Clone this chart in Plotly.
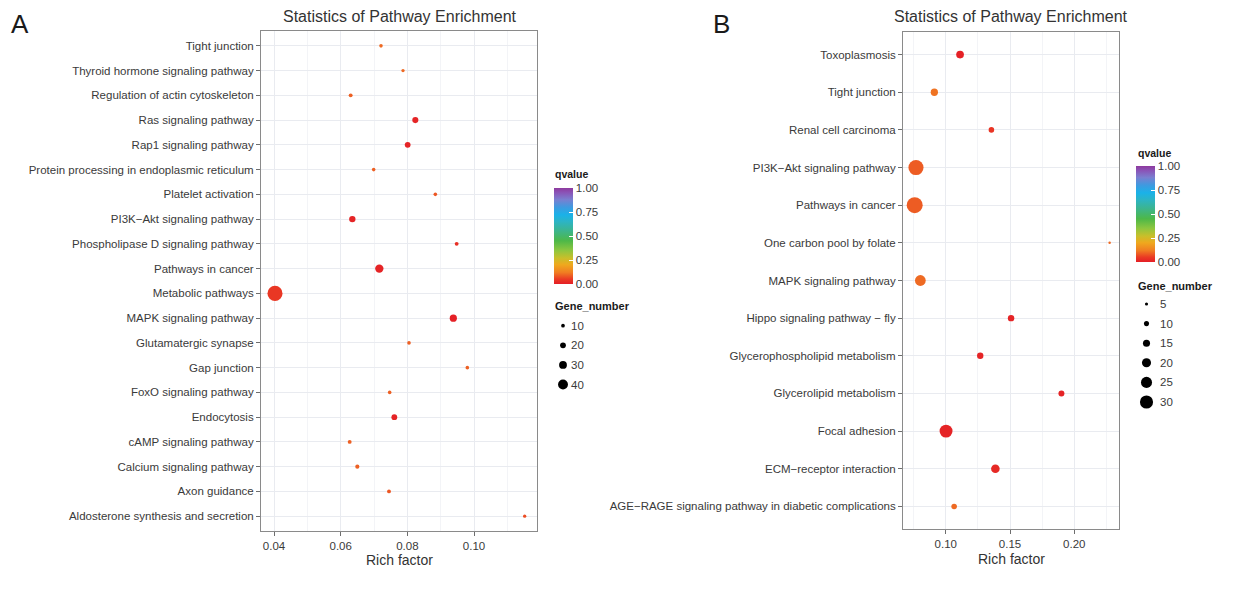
import plotly.graph_objects as go

W, H = 1245, 596
MINUS = "\u2212"

# ---- Panel A data (categories listed bottom-to-top) ----
a_pathways = [
    "Aldosterone synthesis and secretion", "Axon guidance", "Calcium signaling pathway",
    "cAMP signaling pathway", "Endocytosis", "FoxO signaling pathway", "Gap junction",
    "Glutamatergic synapse", "MAPK signaling pathway", "Metabolic pathways",
    "Pathways in cancer", "Phospholipase D signaling pathway", f"PI3K{MINUS}Akt signaling pathway",
    "Platelet activation", "Protein processing in endoplasmic reticulum", "Rap1 signaling pathway",
    "Ras signaling pathway", "Regulation of actin cytoskeleton", "Thyroid hormone signaling pathway",
    "Tight junction",
]
a_rich = [0.1152, 0.0745, 0.0650, 0.0627, 0.0761, 0.0747, 0.0980, 0.0805, 0.0938, 0.0403,
          0.0716, 0.0948, 0.0635, 0.0884, 0.0699, 0.0801, 0.0824, 0.0630, 0.0787, 0.0721]
a_genes = [4, 6, 7, 6, 13, 5, 5, 5, 18, 46, 22, 6, 15, 5, 5, 13, 14, 6, 4, 5]
a_qvalue = [0.07, 0.08, 0.09, 0.09, 0.01, 0.09, 0.09, 0.09, 0.005, 0.045,
            0.01, 0.03, 0.01, 0.08, 0.09, 0.01, 0.01, 0.09, 0.1, 0.1]
a_size_breaks = [10, 20, 30, 40]

# ---- Panel B data (categories listed bottom-to-top) ----
b_pathways = [
    f"AGE{MINUS}RAGE signaling pathway in diabetic complications", f"ECM{MINUS}receptor interaction",
    "Focal adhesion", "Glycerolipid metabolism", "Glycerophospholipid metabolism",
    f"Hippo signaling pathway {MINUS} fly", "MAPK signaling pathway", "One carbon pool by folate",
    "Pathways in cancer", f"PI3K{MINUS}Akt signaling pathway", "Renal cell carcinoma",
    "Tight junction", "Toxoplasmosis",
]
b_rich = [0.1065, 0.1386, 0.1002, 0.1900, 0.1268, 0.1508, 0.0802, 0.2275,
          0.0758, 0.0768, 0.1355, 0.0911, 0.1111]
b_genes = [10, 17, 27, 11, 12, 12, 22, 3, 34, 32, 10, 14, 15]
b_qvalue = [0.1, 0.02, 0.01, 0.01, 0.01, 0.01, 0.1, 0.1, 0.085, 0.085, 0.04, 0.11, 0.005]
b_size_breaks = [5, 10, 15, 20, 25, 30]

q_ticks = [0, 0.25, 0.5, 0.75, 1.0]

# rainbow-like q-value palette (red = 0, purple = 1)
q_scale = [
    [0.00, "#E41E26"], [0.05, "#EA3A24"], [0.12, "#F07D22"], [0.20, "#EFA81E"],
    [0.27, "#C9BF2A"], [0.35, "#8EC63F"], [0.45, "#4DB848"], [0.55, "#3DB58A"],
    [0.65, "#2CB4C5"], [0.72, "#1AB2E8"], [0.80, "#3E9AE0"], [0.88, "#7A7FD0"],
    [0.95, "#8A55B8"], [1.00, "#8E3A9E"],
]

TXT = "#3A3A3A"
FONT = "Liberation Sans, Arial, sans-serif"


def px_x(x):
    return x / W


def px_y(y):
    return 1 - y / H


def size_a(n):
    return 2.2 + 0.279 * n


def size_b(n):
    return 1.2 + 0.435 * n


fig = go.Figure()

fig.add_trace(go.Scatter(
    x=a_rich, y=a_pathways, mode="markers", xaxis="x", yaxis="y",
    marker=dict(size=[size_a(n) for n in a_genes], color=a_qvalue, coloraxis="coloraxis",
                line=dict(width=0), opacity=1),
    showlegend=False, hoverinfo="skip",
))
fig.add_trace(go.Scatter(
    x=b_rich, y=b_pathways, mode="markers", xaxis="x2", yaxis="y2",
    marker=dict(size=[size_b(n) for n in b_genes], color=b_qvalue, coloraxis="coloraxis2",
                line=dict(width=0), opacity=1),
    showlegend=False, hoverinfo="skip",
))

# Gene_number size keys, drawn on a pixel-space overlay axis
legend_specs = [
    # breaks, size fn, key scale, key centre x, first key y, label x, title x, title y
    (a_size_breaks, size_a, 0.74, 563, 325.7, 569, 553, 306),
    (b_size_breaks, size_b, 0.92, 1146.5, 304.0, 1158, 1136, 286),
]
KEY_STEP = 19.6
annotations = []
for breaks, fn, scale, kx, ky0, lx, tx, ty in legend_specs:
    ys = [ky0 + KEY_STEP * i for i in range(len(breaks))]
    fig.add_trace(go.Scatter(
        x=[kx] * len(breaks), y=ys, mode="markers", xaxis="x3", yaxis="y3",
        marker=dict(size=[fn(v) * scale for v in breaks], color="#000000", opacity=1,
                    line=dict(width=0)),
        showlegend=False, hoverinfo="skip",
    ))
    for v, y in zip(breaks, ys):
        annotations.append(dict(x=px_x(lx), y=px_y(y), xref="paper", yref="paper", text=str(v),
                                showarrow=False, xanchor="left", yanchor="middle",
                                font=dict(size=11.5, color=TXT, family=FONT)))
    annotations.append(dict(x=px_x(tx), y=px_y(ty), xref="paper", yref="paper",
                            text="<b>Gene_number</b>", showarrow=False, xanchor="left",
                            yanchor="middle", font=dict(size=11, color="#1A1A1A", family=FONT)))

# titles, axis titles, panel letters, colourbar titles
for cx, text in [(400, "Statistics of Pathway Enrichment"), (1011, "Statistics of Pathway Enrichment")]:
    annotations.append(dict(x=px_x(cx), y=px_y(17), xref="paper", yref="paper", text=text,
                            showarrow=False, xanchor="center", yanchor="middle",
                            font=dict(size=16, color="#333333", family=FONT)))
for cx, cy in [(399, 560), (1011, 559)]:
    annotations.append(dict(x=px_x(cx), y=px_y(cy), xref="paper", yref="paper", text="Rich factor",
                            showarrow=False, xanchor="center", yanchor="middle",
                            font=dict(size=14, color="#333333", family=FONT)))
for cx, text in [(20, "A"), (722, "B")]:
    annotations.append(dict(x=px_x(cx), y=px_y(24), xref="paper", yref="paper", text=text,
                            showarrow=False, xanchor="center", yanchor="middle",
                            font=dict(size=26, color="#1A1A1A", family=FONT)))
for cx, cy in [(553, 173.5), (1136, 152.5)]:
    annotations.append(dict(x=px_x(cx), y=px_y(cy), xref="paper", yref="paper", text="<b>qvalue</b>",
                            showarrow=False, xanchor="left", yanchor="middle",
                            font=dict(size=10.5, color="#1A1A1A", family=FONT)))


def colorbar(x_left, y_top, y_bottom):
    return dict(
        x=px_x(x_left), xanchor="left", xpad=0, ypad=0,
        y=px_y((y_top + y_bottom) / 2), yanchor="middle",
        len=y_bottom - y_top, lenmode="pixels", thickness=19, thicknessmode="pixels",
        tickvals=q_ticks, ticktext=[f"{t:.2f}" for t in q_ticks],
        ticks="inside", ticklen=4, tickcolor="white", tickwidth=1,
        outlinewidth=0, tickfont=dict(size=11.5, color=TXT, family=FONT), title=dict(text=""),
    )


def x_axis(domain, rng, tick0, dtick, minor_dtick):
    return dict(
        domain=domain, range=rng, tick0=tick0, dtick=dtick, tickformat=".2f",
        ticks="outside", ticklen=4, tickcolor="#6E6E6E", tickwidth=1,
        showline=True, linecolor="#8A8A8A", linewidth=1, mirror=True,
        showgrid=True, gridcolor="#E9EBF0", gridwidth=1, zeroline=False,
        minor=dict(dtick=minor_dtick, tick0=tick0, showgrid=True, gridcolor="#F3F4F7", ticks=""),
        tickfont=dict(size=11.5, color=TXT, family=FONT), fixedrange=True,
    )


def y_axis(domain, cats, anchor):
    return dict(
        domain=domain, type="category", categoryorder="array", categoryarray=cats,
        range=[-0.6, len(cats) - 0.4], anchor=anchor,
        ticks="outside", ticklen=4, tickcolor="#6E6E6E", tickwidth=1,
        showline=True, linecolor="#8A8A8A", linewidth=1, mirror=True,
        showgrid=True, gridcolor="#E9EBF0", gridwidth=1, zeroline=False,
        tickfont=dict(size=11.5, color=TXT, family=FONT), fixedrange=True,
    )


fig.update_layout(
    width=W, height=H, margin=dict(l=0, r=0, t=0, b=0, autoexpand=False),
    # transparent plot areas so the full-size key overlay does not hide the panels
    paper_bgcolor="#FFFFFF", plot_bgcolor="rgba(0,0,0,0)",
    font=dict(family=FONT, color=TXT),
    xaxis=x_axis([px_x(261), px_x(537)], [0.0361, 0.1189], 0.04, 0.02, 0.01) | dict(anchor="y"),
    yaxis=y_axis([px_y(531), px_y(31)], a_pathways, "x"),
    xaxis2=x_axis([px_x(903), px_x(1119)], [0.0667, 0.2348], 0.10, 0.05, 0.025) | dict(anchor="y2"),
    yaxis2=y_axis([px_y(529), px_y(32)], b_pathways, "x2"),
    xaxis3=dict(domain=[0, 1], range=[0, W], visible=False, anchor="y3", fixedrange=True),
    yaxis3=dict(domain=[0, 1], range=[H, 0], visible=False, anchor="x3", fixedrange=True),
    coloraxis=dict(colorscale=q_scale, cmin=0, cmax=1, colorbar=colorbar(554, 188, 284)),
    coloraxis2=dict(colorscale=q_scale, cmin=0, cmax=1, colorbar=colorbar(1136, 166, 262)),
    annotations=annotations,
    showlegend=False,
)

fig.write_html("out.html")
